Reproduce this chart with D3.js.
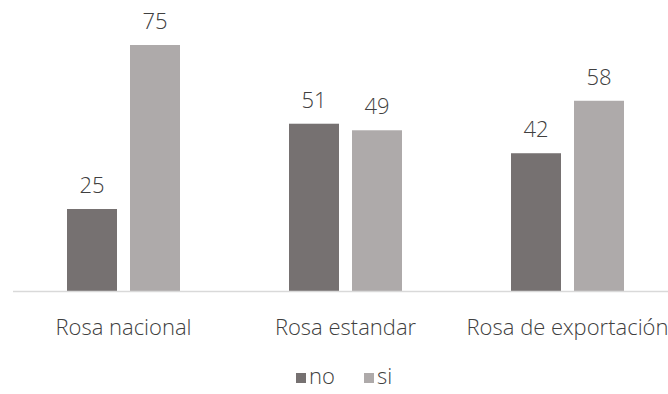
<!DOCTYPE html>
<html>
<head>
<meta charset="utf-8">
<script src="https://cdn.jsdelivr.net/npm/d3@7"></script>
<style>
  html, body { margin: 0; padding: 0; background: #fff; }
  svg { display: block; font-family: "Open Sans Light", "Open Sans", sans-serif; font-weight: 300; }
</style>
</head>
<body>
<svg id="chart" width="668" height="394"></svg>
<script>
// Survey answers per rose type (percent)
const categories = ["Rosa nacional", "Rosa estandar", "Rosa de exportación"];
const seriesNames = ["no", "si"];
const noValues = [25, 51, 42];
const siValues = [75, 49, 58];
const colors = ["#767171", "#AEAAAA"];

const svg = d3.select("#chart");
const plotLeft = 12.5, plotRight = 678.5, baseY = 291;
const textColor = "#404040";
const fontSize = 22;

const x0 = d3.scaleBand().domain(categories).range([plotLeft, plotRight]).padding(0);
const x1 = d3.scaleBand().domain(seriesNames).range([54.5, 167.5]).paddingInner(13 / 63).paddingOuter(0);
const y = d3.scaleLinear().domain([0, 80]).range([baseY, baseY - 80 * 3.28]);

const rows = categories.map((c, i) => ({ cat: c, vals: [noValues[i], siValues[i]] }));
const items = d => d.vals.map((v, j) => ({ s: seriesNames[j], v, j }));

const groups = svg.append("g").selectAll("g").data(rows).join("g")
  .attr("transform", d => `translate(${x0(d.cat)},0)`);

groups.selectAll("rect").data(items).join("rect")
  .attr("x", d => x1(d.s))
  .attr("width", x1.bandwidth())
  .attr("y", d => y(d.v))
  .attr("height", d => baseY - y(d.v))
  .attr("fill", d => colors[d.j]);

groups.selectAll("text.val").data(items).join("text")
  .attr("class", "val")
  .attr("x", d => x1(d.s) + x1.bandwidth() / 2)
  .attr("y", d => y(d.v) - 16)
  .attr("text-anchor", "middle")
  .attr("font-size", fontSize)
  .attr("fill", textColor)
  .text(d => d.v);

// category axis along the baseline
const axis = d3.axisBottom(x0).tickSize(0).tickPadding(0);
const ax = svg.append("g").attr("transform", `translate(0,${baseY})`).call(axis);
ax.select(".domain").attr("stroke", "#d9d9d9").attr("stroke-width", 1.3);
ax.selectAll("text")
  .attr("dy", null)
  .attr("y", 44)
  .attr("font-size", fontSize)
  .attr("font-family", null)
  .attr("fill", textColor);
ax.attr("font-family", null).attr("font-size", null);

// legend
const legend = svg.append("g");
const legendItems = [
  { name: seriesNames[0], color: colors[0], x: 296 },
  { name: seriesNames[1], color: colors[1], x: 364 }
];
legendItems.forEach(it => {
  legend.append("rect").attr("x", it.x).attr("y", 373).attr("width", 10).attr("height", 10).attr("fill", it.color);
  legend.append("text").attr("x", it.x + 13).attr("y", 384).attr("font-size", fontSize)
    .attr("fill", textColor).text(it.name);
});
</script>
</body>
</html>
